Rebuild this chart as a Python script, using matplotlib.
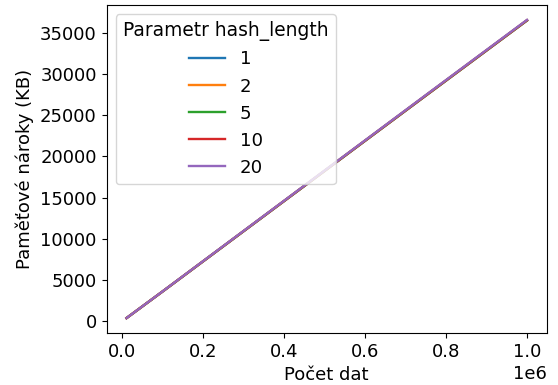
import matplotlib
matplotlib.use("Agg")
import matplotlib.pyplot as plt

plt.rcParams['font.size'] = 13

counts = [10000, 100000, 250000, 500000, 750000, 1000000]
hash_lengths = [1, 2, 5, 10, 20]
memory_kb = {
    1:  [395, 3650, 9125, 18250, 27375, 36480],
    2:  [396, 3652, 9128, 18255, 27382, 36490],
    5:  [397, 3655, 9135, 18265, 27395, 36505],
    10: [398, 3660, 9145, 18280, 27415, 36525],
    20: [400, 3665, 9160, 18305, 27450, 36560],
}

fig = plt.figure(figsize=(5.58, 3.85), dpi=100)
ax = fig.add_axes([106.5 / 558, 1 - 333 / 385, (547 - 106.5) / 558, (333 - 5) / 385])

for h in hash_lengths:
    ax.plot(counts, memory_kb[h], label=str(h), linewidth=1.7)

ax.set_xlabel("Počet dat")
ax.set_ylabel("Paměťové nároky (KB)")
ax.legend(title="Parametr hash_length", loc="upper left",
          fontsize=13.1, title_fontsize=13.4)

fig.savefig("out.png", dpi=100)
